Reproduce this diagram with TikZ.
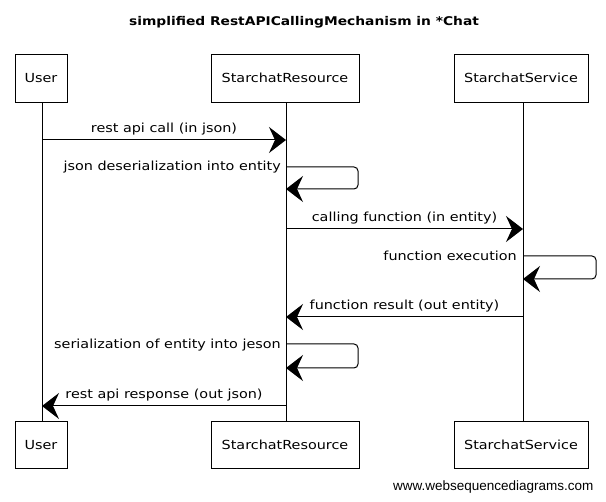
\documentclass[tikz,border=0pt]{standalone}
\usepackage{fontspec}
\setmainfont{DejaVu Sans}[FakeStretch=1.15]
\newfontfamily\footfont{Liberation Sans}
\usetikzlibrary{arrows.meta}
\begin{document}
\begin{tikzpicture}[x=1pt,y=-1pt,
  actor/.style={draw=black,line width=0.9pt,fill=white,minimum height=48pt,inner sep=0pt,font=\fontsize{12.5}{14}\selectfont},
  life/.style={draw=black,line width=0.8pt},
  msg/.style={draw=black,line width=1pt,-{Stealth[length=17pt,width=26pt,inset=6pt]}},
  lbl/.style={font=\fontsize{12.5}{14}\selectfont,inner sep=1pt}]
\useasboundingbox (0,0) rectangle (606,502);
\node[font=\bfseries\fontsize{12}{14}\selectfont] (title) at (304,22) {simplified RestAPICallingMechanism in *Chat};
% actors top
\node[actor,minimum width=52pt] (ut) at (41,78) {User};
\node[actor,minimum width=148pt] (rt) at (285,78) {StarchatResource};
\node[actor,minimum width=134pt] (st) at (521,78) {StarchatService};
% actors bottom
\node[actor,minimum width=52pt,minimum height=47pt] (ub) at (41,445) {User};
\node[actor,minimum width=148pt,minimum height=47pt] (rb) at (285,445) {StarchatResource};
\node[actor,minimum width=134pt,minimum height=47pt] (sb) at (521,445) {StarchatService};
% lifelines
\coordinate (u) at (42,0); \coordinate (r) at (286,0); \coordinate (s) at (523,0);
\draw[life] (u|-ut.south) -- (u|-ub.north);
\draw[life] (r|-rt.south) -- (r|-rb.north);
\draw[life] (s|-st.south) -- (s|-sb.north);
% message 1
\coordinate (m1a) at (42,140); \coordinate (m1b) at (286,140);
\draw[msg] (m1a) -- node[lbl,above=3pt] {rest api call (in json)} (m1b);
% self 1
\coordinate (l1a) at (286,167); \coordinate (l1b) at (286,189);
\draw[msg,rounded corners=4pt] (l1a) -- (358,167) -- (358,189) -- (l1b);
\node[lbl,anchor=east] (t2) at (282,167) {json deserialization into entity};
% message 3
\coordinate (m3a) at (286,229); \coordinate (m3b) at (523,229);
\draw[msg] (m3a) -- node[lbl,above=3pt] {calling function (in entity)} (m3b);
% self 2
\coordinate (l2a) at (523,256); \coordinate (l2b) at (523,279);
\draw[msg,rounded corners=4pt] (l2a) -- (596,256) -- (596,279) -- (l2b);
\node[lbl,anchor=east] (t4) at (518,256) {function execution};
% message 5
\coordinate (m5a) at (523,317); \coordinate (m5b) at (286,317);
\draw[msg] (m5a) -- node[lbl,above=3pt] {function result (out entity)} (m5b);
% self 3
\coordinate (l3a) at (286,344); \coordinate (l3b) at (286,368);
\draw[msg,rounded corners=4pt] (l3a) -- (358,344) -- (358,368) -- (l3b);
\node[lbl,anchor=east] (t6) at (282,345) {serialization of entity into jeson};
% message 7
\coordinate (m7a) at (286,406); \coordinate (m7b) at (42,406);
\draw[msg] (m7a) -- node[lbl,above=3pt] {rest api response (out json)} (m7b);
% footer
\node[font=\footfont\fontsize{13.5}{15}\selectfont,anchor=east] (foot) at (597,487) {www.websequencediagrams.com};
\end{tikzpicture}
\end{document}
